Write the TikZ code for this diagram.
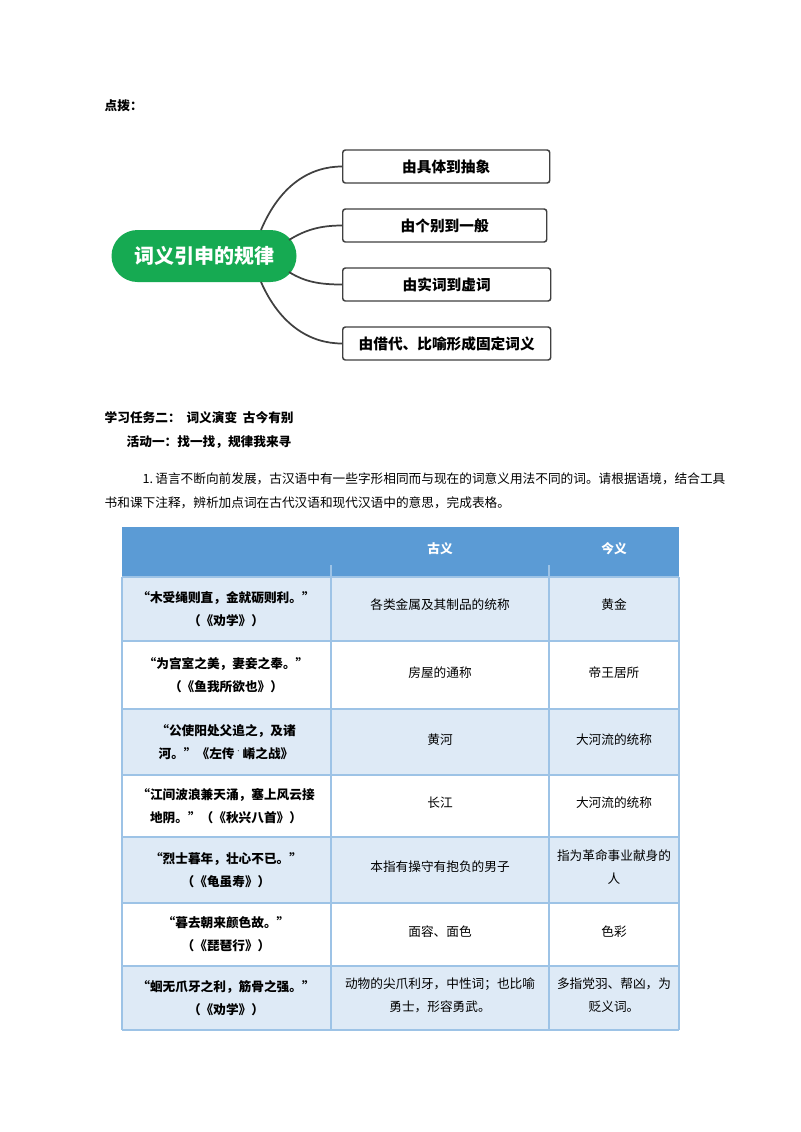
\documentclass[tikz,border=0pt]{standalone}
\usepackage{fontspec}
\setmainfont{Noto Sans CJK SC}
\definecolor{gr}{RGB}{22,170,82}
\definecolor{hdc}{RGB}{91,155,213}
\definecolor{rowc}{RGB}{222,234,246}
\definecolor{bdc}{RGB}{157,195,230}
\begin{document}
\begin{tikzpicture}[x=0.75pt,y=-0.75pt,
  br/.style={draw=black!75,line width=1.1pt,rounded corners=2pt,minimum height=33*0.75pt,anchor=west,font=\bfseries\fontsize{11}{13}\selectfont},
  ln/.style={draw=black!75,line width=1.3pt},
  tx/.style={font=\fontsize{9.5}{13}\selectfont,align=center,text width=190*0.75pt},
  hd/.style={font=\bfseries\fontsize{9.5}{13}\selectfont,text=white},
  bd/.style={bdc,line width=1pt},
  qt/.style={font=\bfseries\fontsize{9.5}{17}\selectfont,align=center,text width=195*0.75pt}]
\useasboundingbox (0,0) rectangle (800,1132);
\fill[white] (0,0) rectangle (800,1132);
\node[anchor=west,font=\bfseries\fontsize{9.5}{12}\selectfont] (t0) at (100,106) {点拨：};
% mindmap
\node[fill=gr,rounded corners=26*0.75pt,minimum width=185*0.75pt,minimum height=52*0.75pt,text=white,font=\bfseries\fontsize{15}{18}\selectfont] (c) at (204,256) {词义引申的规律};
\node[br,minimum width=207*0.75pt] (b1) at (342,166.5) {由具体到抽象};
\node[br,minimum width=204*0.75pt] (b2) at (342,225.5) {由个别到一般};
\node[br,minimum width=208*0.75pt] (b3) at (342,284.5) {由实词到虚词};
\node[br,minimum width=208*0.75pt] (b4) at (342,343.5) {由借代、比喻形成固定词义};
\coordinate (p1) at (261,230);
\coordinate (p2) at (289,240);
\coordinate (p3) at (289,272);
\coordinate (p4) at (261,282);
\draw[ln] (p1) .. controls (280,185) and (310,166.5) .. (b1.west);
\draw[ln] (p2) .. controls (305,230) and (320,225.5) .. (b2.west);
\draw[ln] (p3) .. controls (305,282) and (320,284.5) .. (b3.west);
\draw[ln] (p4) .. controls (280,325) and (310,343.5) .. (b4.west);
% texts
\node[anchor=west,font=\bfseries\fontsize{9.5}{12}\selectfont] (t1) at (100,418) {学习任务二：\ \ 词义演变\ \ 古今有别};
\node[anchor=west,font=\bfseries\fontsize{9.5}{12}\selectfont] (t2) at (122,442) {活动一：找一找，规律我来寻};
\node[anchor=west,font=\fontsize{9.5}{12}\selectfont] (t3) at (138,479) {1.\,语言不断向前发展，古汉语中有一些字形相同而与现在的词意义用法不同的词。请根据语境，结合工具};
\node[anchor=west,font=\fontsize{9.5}{12}\selectfont] (t4) at (100,503) {书和课下注释，辨析加点词在古代汉语和现代汉语中的意思，完成表格。};
% table
\fill[hdc] (122,527) rectangle (679,577);
\foreach \a/\b in {577/641,709/775,837/903,966/1030}
  \fill[rowc] (122,\a) rectangle (679,\b);
\foreach \y in {577,641,709,775,837,903,966,1030}
  \draw[bd] (122,\y) -- (679,\y);
\foreach \x in {122,331,549,679}
  \draw[bd] (\x,577) -- (\x,1030);
\draw[bd] (331,577) -- (331,565) (549,577) -- (549,565);
\node[hd] (h1) at (440,549) {古义};
\node[hd] (h2) at (614,549) {今义};
\node[qt] (q1) at (226,609) {“木受绳则直，金就砺则利。”\\（《劝学》）};
\node[qt] (q2) at (226,675) {“为宫室之美，妻妾之奉。”\\（《鱼我所欲也》）};
\node[qt] (q3) at (226,742) {“公使阳处父追之，及诸\\河。”《左传\,$^{\cdot}$\,崤之战》};
\node[qt] (q4) at (226,806) {“江间波浪兼天涌，塞上风云接\\地阴。”（《秋兴八首》）};
\node[qt] (q5) at (226,870) {“烈士暮年，壮心不已。”\\（《龟虽寿》）};
\node[qt] (q6) at (226,934) {“暮去朝来颜色故。”\\（《琵琶行》）};
\node[qt] (q7) at (226,998) {“蛔无爪牙之利，筋骨之强。”\\（《劝学》）};
\node[tx] (g1) at (440,605) {各类金属及其制品的统称};
\node[tx] (g2) at (440,673) {房屋的通称};
\node[tx] (g3) at (440,740) {黄河};
\node[tx] (g4) at (440,803) {长江};
\node[tx] (g5) at (440,867) {本指有操守有抱负的男子};
\node[tx] (g6) at (440,932) {面容、面色};
\node[tx,text width=205*0.75pt,font=\fontsize{9.5}{17}\selectfont] (g7) at (440,995) {动物的尖爪利牙，中性词；也比喻\\勇士，形容勇武。};
\node[tx,text width=125*0.75pt] (n1) at (614,605) {黄金};
\node[tx,text width=125*0.75pt] (n2) at (614,673) {帝王居所};
\node[tx,text width=125*0.75pt] (n3) at (614,740) {大河流的统称};
\node[tx,text width=125*0.75pt] (n4) at (614,803) {大河流的统称};
\node[tx,text width=125*0.75pt,font=\fontsize{9.5}{17}\selectfont] (n5) at (614,867) {指为革命事业献身的\\人};
\node[tx,text width=125*0.75pt] (n6) at (614,932) {色彩};
\node[tx,text width=125*0.75pt,font=\fontsize{9.5}{17}\selectfont] (n7) at (614,995) {多指党羽、帮凶，为\\贬义词。};
\end{tikzpicture}
\end{document}
